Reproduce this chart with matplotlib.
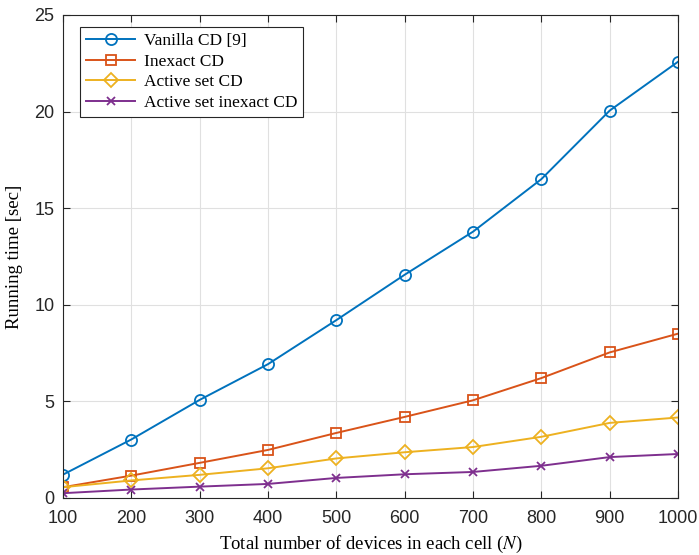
import matplotlib
matplotlib.use("Agg")
import matplotlib.pyplot as plt

plt.rcParams['mathtext.fontset'] = 'stix'

devices = [100, 200, 300, 400, 500, 600, 700, 800, 900, 1000]
vanilla_cd = [1.2, 3.02, 5.07, 6.92, 9.2, 11.55, 13.78, 16.5, 20.05, 22.58]
inexact_cd = [0.55, 1.15, 1.81, 2.48, 3.36, 4.19, 5.05, 6.2, 7.53, 8.5]
active_set_cd = [0.55, 0.9, 1.19, 1.53, 2.04, 2.36, 2.63, 3.16, 3.88, 4.16]
active_inexact_cd = [0.24, 0.43, 0.58, 0.72, 1.03, 1.22, 1.34, 1.66, 2.11, 2.27]

labels = ['Vanilla CD [9]', 'Inexact CD', 'Active set CD', 'Active set inexact CD']
colors = ['#0072BD', '#D95319', '#EDB120', '#7E2F8E']
markers = ['o', 's', 'D', 'x']
msizes = [8, 7.5, 7, 5.5]

fig = plt.figure(figsize=(6.99, 5.55), dpi=100)
ax = fig.add_axes([0.090, 0.103, 0.880, 0.870])

series = [vanilla_cd, inexact_cd, active_set_cd, active_inexact_cd]
for vals, lab, c, m, ms in zip(series, labels, colors, markers, msizes):
    ax.plot(devices, vals, color=c, marker=m, markersize=ms,
            markerfacecolor='none', markeredgewidth=1.3, linewidth=1.4, label=lab)

ax.set_xlim(100, 1000)
ax.set_ylim(0, 25)
ax.set_xticks(devices)
ax.set_yticks([0, 5, 10, 15, 20, 25])
ax.grid(True, color='#e0e0e0', linewidth=0.8)
ax.set_axisbelow(True)
ax.tick_params(direction='in', length=5, labelsize=13, top=True, right=True,
               labeltop=False, labelright=False, colors='#262626')
ax.tick_params(axis='x', pad=9)
ax.tick_params(axis='y', pad=6)
for lbl in ax.get_xticklabels() + ax.get_yticklabels():
    lbl.set_fontfamily('Liberation Sans')
for sp in ax.spines.values():
    sp.set_color('#262626')
    sp.set_linewidth(0.8)

ax.set_xlabel('Total number of devices in each cell ($N$)', family='Liberation Serif',
              fontsize=13.5, labelpad=5)
ax.set_ylabel('Running time [sec]', family='Liberation Serif', fontsize=13.5, labelpad=8)

leg = ax.legend(loc='upper left', bbox_to_anchor=(0.028, 0.975), borderaxespad=0,
                fancybox=False, edgecolor='#262626', framealpha=1,
                prop={'family': 'Liberation Serif', 'size': 12.5},
                handlelength=2.8, borderpad=0.35, labelspacing=0.25, handletextpad=0.5)
leg.get_frame().set_linewidth(0.8)

fig.savefig('out.png', dpi=100)
